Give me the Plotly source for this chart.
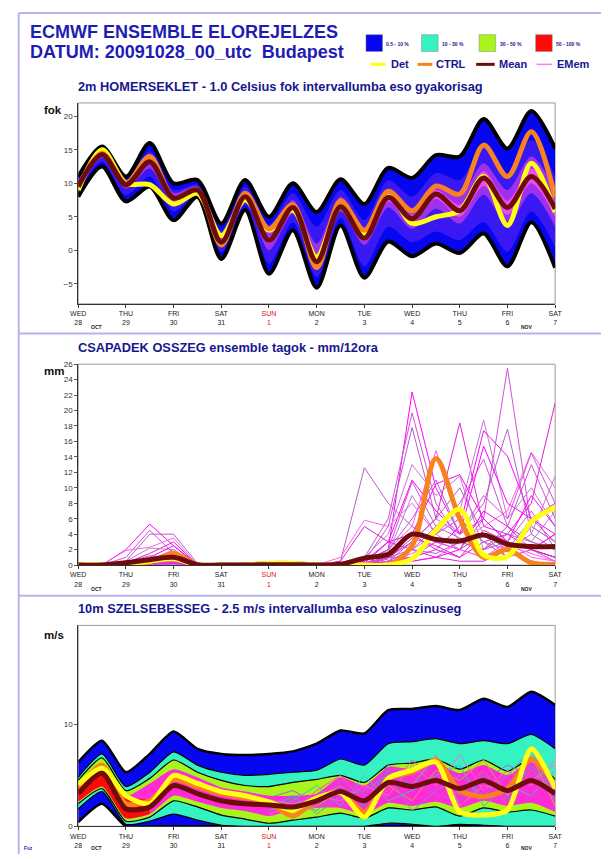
import plotly.graph_objects as go

# ---------------- data ----------------
times = ["2009-10-28 00:00", "2009-10-28 12:00", "2009-10-29 00:00", "2009-10-29 12:00",
         "2009-10-30 00:00", "2009-10-30 12:00", "2009-10-31 00:00", "2009-10-31 12:00",
         "2009-11-01 00:00", "2009-11-01 12:00", "2009-11-02 00:00", "2009-11-02 12:00",
         "2009-11-03 00:00", "2009-11-03 12:00", "2009-11-04 00:00", "2009-11-04 12:00",
         "2009-11-05 00:00", "2009-11-05 12:00", "2009-11-06 00:00", "2009-11-06 12:00",
         "2009-11-07 00:00"]
day_ticks = ["2009-10-28", "2009-10-29", "2009-10-30", "2009-10-31", "2009-11-01", "2009-11-02",
             "2009-11-03", "2009-11-04", "2009-11-05", "2009-11-06", "2009-11-07"]
day_names = ["WED", "THU", "FRI", "SAT", "SUN", "MON", "TUE", "WED", "THU", "FRI", "SAT"]
day_nums = ["28", "29", "30", "31", "1", "2", "3", "4", "5", "6", "7"]

# 2m temperature (Celsius)
temp_max = [11, 15.5, 11, 16, 10, 10.5, 4, 10.5, 5, 10, 5.7, 10.6, 6.9, 12.3, 10.8, 14.2, 14, 19.6, 15.2, 20.8, 15.2]
temp_min = [8, 12.5, 7.3, 9.5, 4.5, 8, -1.3, 6, -3.5, 3, -5.6, 3.7, -4.1, 1.3, -0.9, 1, -0.4, 2.5, -2.4, 4.2, -2.6]
temp_p90 = [10.3, 15, 10.5, 14.8, 9, 9.8, 3, 9.5, 3.8, 8.5, 3.5, 9, 4.5, 10.5, 8, 11.5, 10.5, 15.5, 11.5, 16.5, 11]
temp_p10 = [8.7, 13.2, 8.2, 11, 5.8, 8.4, -0.3, 6.8, -2, 4.2, -4, 4.8, -2.4, 3.5, 1.2, 2.8, 1.5, 4.2, -0.2, 5.8, 0.5]
temp_p75 = [10, 14.8, 10.3, 14.2, 8.6, 9.5, 2.3, 8.8, 2.6, 7.5, 1, 8, 3.0, 9.2, 6.3, 9.8, 8, 13, 9, 14, 9]
temp_p25 = [9.1, 13.8, 9.2, 12.2, 6.9, 8.8, 0.5, 7.4, 0, 5.4, -2.8, 5.8, 0.8, 6.4, 3.2, 6.2, 4, 8.3, 3.8, 8.5, 3.5]
temp_p60 = [9.8, 14.6, 10.1, 13.7, 8.2, 9.3, 1.7, 8.3, 2.0, 6.8, -1.0, 7.0, 2.3, 8.4, 5.3, 9.0, 6.8, 11.8, 7.4, 12.2, 7.2]
temp_p40 = [9.3, 14.1, 9.6, 12.9, 7.4, 8.9, 0.9, 7.8, 1.0, 6.0, -2.2, 6.2, 1.4, 7.3, 4.1, 7.7, 5.0, 9.6, 5.3, 10.0, 5.0]
temp_det = [9, 15, 10, 9.8, 6.9, 8.5, 2.2, 7.5, 3, 6, -1, 6.5, 2.5, 8.5, 4, 5, 5.9, 11, 3.7, 13, 5.7]
temp_ctrl = [9.5, 14.5, 10, 14, 7.8, 9, 0.8, 8.5, 3.2, 6.8, -2.6, 7.4, 3.0, 8.8, 5.9, 9.6, 8.4, 15.7, 11, 17.7, 7.9]
temp_mean = [9.5, 14.3, 9.8, 13.2, 7.8, 9, 1.2, 8, 1.5, 6.4, -1.7, 6.5, 1.8, 7.9, 4.7, 8.4, 5.9, 10.8, 6.4, 11, 6.2]

# 12-hourly precipitation (mm/12h)
prec_det = [0, 0, 0.1, 0.5, 0.8, 0, 0, 0, 0.2, 0.2, 0, 0, 0, 0, 0.8, 4.5, 7.2, 1.3, 1.1, 5.6, 7.5]
prec_ctrl = [0, 0, 0.1, 0.4, 1.5, 0, 0, 0, 0.2, 0.2, 0, 0, 0, 0, 2.5, 13.8, 6.0, 1.0, 2.0, 0.3, 0.1]
prec_mean = [0, 0, 0.3, 0.7, 1.0, 0.05, 0, 0, 0.05, 0.05, 0, 0.1, 0.9, 1.4, 4.0, 3.3, 3.1, 3.9, 2.7, 2.4, 2.4]
prec_m01 = [0, 0, 2.0, 5.3, 2.5, 0, 0, 0, 0, 0, 0, 0, 0.5, 2.0, 22.4, 10.0, 4.0, 6.0, 3.0, 2.0, 1.0]
prec_m02 = [0, 0, 1.0, 4.5, 1.5, 0, 0, 0, 0, 0, 0, 0.3, 1.0, 6.0, 19.7, 8.0, 3.0, 2.0, 5.0, 3.0, 2.0]
prec_m03 = [0, 0, 0.5, 4.0, 4.0, 0.2, 0, 0, 0, 0, 0, 0, 0.5, 5.0, 17.8, 6.0, 10.0, 4.0, 2.0, 6.0, 3.0]
prec_m04 = [0, 0, 1.9, 2.3, 3.5, 0, 0, 0, 0, 0, 0, 0, 0, 2.0, 5.0, 14.8, 6.0, 3.0, 1.0, 2.0, 4.0]
prec_m05 = [0, 0, 0.3, 1.5, 3.0, 0, 0, 0, 0, 0, 0, 0, 0, 1.0, 3.0, 6.0, 18.4, 5.0, 4.0, 2.0, 1.0]
prec_m06 = [0, 0, 0.5, 2.2, 2.0, 0, 0, 0, 0, 0, 0, 0, 0, 0.5, 2.0, 4.0, 7.0, 18.8, 6.0, 10.0, 5.0]
prec_m07 = [0, 0, 0.2, 1.0, 2.5, 0, 0, 0, 0, 0, 0, 0, 0.2, 3.0, 4.0, 2.0, 5.0, 17.4, 14.1, 6.0, 8.0]
prec_m08 = [0, 0, 0.4, 1.2, 1.0, 0, 0, 0.3, 0, 0, 0, 0, 0, 1.0, 1.0, 3.0, 2.0, 6.0, 25.5, 5.0, 3.0]
prec_m09 = [0, 0, 0, 0.8, 1.5, 0, 0, 0, 0, 0, 0, 0, 0.5, 2.0, 6.0, 11.0, 4.0, 8.0, 17.6, 4.0, 2.0]
prec_m10 = [0, 0, 0.1, 0.5, 1.0, 0, 0, 0, 0, 0, 0, 0, 0, 0, 0.5, 1.0, 3.0, 5.0, 7.0, 14.6, 10.0]
prec_m11 = [0, 0, 0, 0.3, 0.8, 0, 0, 0, 0.2, 0, 0, 0, 0, 0.5, 1.0, 2.0, 1.0, 3.0, 4.0, 8.0, 21.0]
prec_m12 = [0, 0, 0, 0.6, 2.0, 0, 0, 0, 0, 0, 0, 0, 1.0, 4.0, 13.0, 9.0, 11.5, 2.0, 5.0, 3.0, 7.0]
prec_m13 = [0, 0, 0.2, 0.4, 1.2, 0, 0, 0, 0, 0, 0, 0, 0.5, 3.0, 11.0, 7.0, 4.0, 15.4, 8.0, 6.0, 4.0]
prec_m14 = [0, 0, 0, 1.0, 0.5, 0, 0, 0, 0, 0, 0, 0, 0, 2.0, 10.8, 5.0, 8.0, 13.7, 5.0, 13.0, 6.0]
prec_m15 = [0, 0, 0, 0.2, 0.6, 0, 0, 0, 0, 0, 0, 0.5, 12.6, 8.0, 5.0, 3.0, 2.0, 4.0, 1.0, 2.0, 0.5]
prec_m16 = [0, 0, 0, 0.5, 0.3, 0, 0, 0, 0, 0, 0, 1.0, 5.8, 5.0, 8.0, 4.0, 2.0, 1.0, 3.0, 1.0, 0.5]
prec_m17 = [0, 0, 0, 0.1, 0.4, 0, 0, 0, 0, 0, 0, 0.5, 5.0, 3.0, 2.0, 1.0, 0.5, 0.5, 2.0, 0.5, 0]
prec_m18 = [0, 0, 0, 0.3, 0.9, 0, 0, 0, 0, 0, 0, 0, 1.0, 1.5, 9.0, 4.0, 6.0, 3.0, 2.0, 4.0, 11.5]
prec_m19 = [0, 0, 0, 0.2, 0.7, 0, 0, 0, 0, 0, 0, 0, 0.3, 1.0, 4.0, 10.5, 11.7, 6.0, 3.0, 9.0, 5.0]
prec_m20 = [0, 0, 0, 0, 0.3, 0, 0, 0, 0, 0, 0, 0, 0, 0.5, 3.0, 6.0, 4.0, 9.0, 6.0, 14.5, 8.0]
prec_m21 = [0, 0, 0, 0.4, 0.5, 0, 0, 0, 0, 0, 0, 0, 0.2, 1.0, 2.0, 1.5, 3.0, 2.0, 4.0, 3.0, 2.0]
prec_m22 = [0, 0, 0, 0, 0.2, 0, 0, 0, 0, 0, 0, 0, 0, 0.3, 1.5, 3.0, 2.0, 1.0, 2.5, 1.5, 0.5]
prec_m23 = [0, 0, 0, 0.2, 0.4, 0, 0, 0, 0, 0, 0, 0, 0, 0.8, 3.5, 2.5, 1.0, 4.5, 3.0, 2.0, 1.0]
prec_m24 = [0, 0, 0, 0, 0.1, 0, 0, 0, 0, 0, 0, 0, 0, 0.2, 1.0, 4.0, 6.0, 3.0, 1.0, 5.0, 3.0]
prec_m25 = [0, 0, 0, 0.1, 0.2, 0, 0, 0, 0, 0, 0, 0, 0, 0.1, 0.5, 1.0, 2.0, 7.0, 5.0, 2.0, 4.0]
prec_m26 = [0, 0, 0, 0, 0.5, 0, 0, 0, 0, 0, 0, 0, 0, 0.5, 2.0, 5.0, 3.5, 2.0, 3.0, 7.0, 2.0]
prec_members = [prec_m01, prec_m02, prec_m03, prec_m04, prec_m05, prec_m06, prec_m07, prec_m08,
                prec_m09, prec_m10, prec_m11, prec_m12, prec_m13, prec_m14, prec_m15, prec_m16,
                prec_m17, prec_m18, prec_m19, prec_m20, prec_m21, prec_m22, prec_m23, prec_m24,
                prec_m25, prec_m26]

# 10m wind speed (m/s)
wind_max = [6.3, 8.4, 5.3, 7.1, 9.3, 7.6, 7.1, 7.0, 7.1, 7.35, 8.1, 9.4, 9.1, 11.4, 11.5, 11.8, 11.4, 12.5, 11.7, 13.2, 11.9]
wind_p90 = [4.8, 7.1, 3.9, 5.3, 7.3, 6.0, 5.3, 5.0, 5.1, 5.3, 5.5, 6.6, 6.0, 8.1, 8.3, 8.6, 8.1, 8.4, 8.1, 9.0, 7.6]
wind_p70 = [4.5, 6.7, 3.5, 4.7, 6.5, 5.3, 4.5, 4.0, 3.9, 4.3, 4.6, 5.0, 4.3, 6.0, 6.2, 6.6, 5.6, 6.5, 5.4, 6.6, 4.6]
wind_hi = [4.2, 6.2, 3.0, 4.2, 5.6, 4.8, 3.8, 3.4, 3.0, 3.0, 3.2, 4.8, 4.0, 5.8, 5.6, 6.2, 5.2, 6.0, 5.0, 6.3, 4.3]
wind_lo = [2.4, 3.9, 0.8, 1.2, 3.0, 2.4, 1.8, 1.5, 1.0, 1.6, 1.8, 1.8, 1.2, 2.3, 2.0, 2.4, 1.8, 2.5, 2.0, 2.3, 1.4]
wind_p30 = [2.2, 3.7, 0.5, 0.9, 2.5, 1.9, 1.1, 0.7, 0.3, 0.6, 0.9, 1.3, 0.8, 1.8, 1.6, 1.9, 1.0, 1.8, 1.4, 1.6, 1.0]
wind_p10 = [1.7, 3.4, 0.2, 0.5, 1.2, 0.6, 0.1, 0, 0, 0, 0, 0, 0, 0.3, 0.2, 0, 0.2, 0.1, 0, 0, 0]
wind_min = [0.4, 2.2, 0, 0, 0, 0, 0, 0, 0, 0, 0, 0, 0, 0, 0, 0, 0, 0, 0, 0, 0]
wind_red_hi = [4.2, 6.2, 3.0, 2.6]
wind_red_lo = [2.4, 3.9, 0.8, 1.2]
wind_det = [4.1, 5.7, 3.0, 2.2, 5.0, 4.2, 3.4, 3.0, 2.4, 1.6, 2.8, 3.3, 0.9, 4.7, 5.5, 6.3, 1.4, 1.1, 1.6, 7.6, 3.7]
wind_ctrl = [3.8, 6.0, 2.2, 2.5, 4.6, 3.9, 3.2, 2.8, 2.3, 1.0, 2.6, 3.4, 1.4, 4.7, 5.3, 6.5, 3.5, 2.9, 3.7, 6.6, 4.0]
wind_mean = [3.2, 5.2, 1.7, 1.9, 4.0, 3.2, 2.5, 2.2, 2.1, 1.9, 2.5, 3.4, 2.5, 4.3, 3.9, 4.5, 3.7, 4.5, 3.5, 4.5, 3.2]
wind_m01 = [3.0, 5.0, 1.5, 2.0, 4.2, 3.5, 2.8, 2.5, 2.0, 2.8, 1.5, 4.0, 2.0, 5.5, 4.0, 6.5, 3.0, 5.0, 2.5, 6.0, 3.0]
wind_m02 = [3.5, 5.5, 2.2, 2.8, 4.5, 3.0, 2.2, 1.8, 1.2, 2.0, 3.0, 2.5, 4.0, 3.0, 6.0, 4.0, 7.0, 3.5, 5.5, 4.0, 6.5]
wind_m03 = [2.8, 4.8, 1.0, 1.8, 3.8, 3.2, 2.5, 2.2, 2.5, 1.0, 2.0, 3.5, 1.5, 4.0, 2.5, 5.5, 4.5, 6.5, 3.0, 7.0, 2.0]
wind_m04 = [3.2, 5.2, 2.0, 2.5, 3.5, 2.8, 2.0, 1.5, 2.8, 3.5, 2.2, 4.5, 3.0, 6.0, 5.0, 3.0, 2.5, 4.5, 6.0, 5.0, 4.5]
wind_m05 = [3.6, 5.0, 1.6, 2.2, 4.8, 3.8, 3.0, 2.8, 1.5, 2.5, 4.0, 2.0, 5.0, 2.5, 3.5, 5.0, 6.0, 2.0, 4.0, 3.0, 5.5]
wind_m06 = [3.0, 5.4, 1.8, 2.6, 4.0, 3.4, 2.4, 2.0, 2.2, 1.5, 3.5, 5.0, 2.5, 3.5, 6.5, 4.5, 3.0, 5.5, 2.0, 5.5, 3.5]
wind_m07 = [3.4, 4.6, 1.4, 2.0, 3.6, 3.0, 2.6, 2.4, 1.8, 3.0, 1.2, 3.0, 3.5, 5.0, 1.5, 3.5, 5.0, 3.0, 5.0, 7.5, 2.5]
wind_m08 = [2.6, 5.6, 2.4, 3.0, 4.4, 2.6, 1.8, 1.6, 2.6, 2.2, 2.8, 4.0, 1.0, 4.5, 4.0, 7.0, 2.0, 4.0, 3.5, 4.5, 6.0]
wind_members = [wind_m01, wind_m02, wind_m03, wind_m04, wind_m05, wind_m06, wind_m07, wind_m08]

# ---------------- styling ----------------
W, H = 608, 859
FONT = "Liberation Sans, Arial, sans-serif"
NAVY = "#17178f"
HEAD = "#1d1db4"
C_BLUE = "#0606f0"
C_AQUA = "#34f2c2"
C_GY = "#a8f51c"
C_RED = "#ff0a0a"
C_MAG = "#ff2bd6"
C_DET = "#ffff10"
C_CTRL = "#f7821e"
C_MEAN = "#6e0c0c"


def px(x):
    return x / W


def py(y):
    return 1 - y / H


fig = go.Figure()


def band(ax, x, lo, hi, fill, edge="black", ew=1, shape="spline", smooth=0.8):
    xa, ya = ax
    fig.add_trace(go.Scatter(x=x, y=lo, xaxis=xa, yaxis=ya, mode="lines",
                             line=dict(color=edge, width=ew, shape=shape, smoothing=smooth),
                             hoverinfo="skip", showlegend=False))
    fig.add_trace(go.Scatter(x=x, y=hi, xaxis=xa, yaxis=ya, mode="lines", fill="tonexty",
                             fillcolor=fill,
                             line=dict(color=edge, width=ew, shape=shape, smoothing=smooth),
                             hoverinfo="skip", showlegend=False))


def curve(ax, x, y, color, width, shape="spline", smooth=0.9):
    xa, ya = ax
    fig.add_trace(go.Scatter(x=x, y=y, xaxis=xa, yaxis=ya, mode="lines",
                             line=dict(color=color, width=width, shape=shape, smoothing=smooth),
                             hoverinfo="skip", showlegend=False))


A1, A2, A3 = ("x", "y"), ("x2", "y2"), ("x3", "y3")

# ---- panel 1: temperature ----
band(A1, times, temp_min, temp_max, C_BLUE, edge="black", ew=4)
band(A1, times, temp_p10, temp_p90, "#3a18f4", edge="rgba(0,0,0,0)", ew=0)
band(A1, times, temp_p25, temp_p75, "#a030f0", edge="rgba(0,0,0,0)", ew=0)
band(A1, times, temp_p40, temp_p60, "#f04af0", edge="rgba(0,0,0,0)", ew=0)
curve(A1, times, temp_det, C_DET, 5)
curve(A1, times, temp_ctrl, C_CTRL, 5)
curve(A1, times, temp_mean, C_MEAN, 5)

# ---- panel 2: precipitation ----
mem_cols = ["#ff00ff", "#d24fd8", "#b85cc8", "#ff5cf0", "#e020d0", "#c07ad0"]
for i, m in enumerate(prec_members):
    curve(A2, times, m, mem_cols[i % len(mem_cols)], 1, shape="linear")
curve(A2, times, prec_ctrl, C_CTRL, 5)
curve(A2, times, prec_det, C_DET, 5)
curve(A2, times, prec_mean, C_MEAN, 5)

# ---- panel 3: wind ----
band(A3, times, wind_min, wind_max, C_BLUE, edge="black", ew=2.5, smooth=0.6)
band(A3, times, wind_p10, wind_p90, C_AQUA, edge="black", ew=1.2, smooth=0.6)
band(A3, times, wind_p30, wind_p70, C_GY, edge="black", ew=1.2, smooth=0.6)
band(A3, times, wind_lo, wind_hi, C_MAG, edge="rgba(0,0,0,0)", ew=0, smooth=0.6)
band(A3, times[:4], wind_red_lo, wind_red_hi, C_RED, edge="rgba(0,0,0,0)", ew=0, smooth=0.6)
wm_cols = ["#3aa7b8", "#ff66cc", "#d8a040", "#9b6ad8", "#48b8c8", "#ff4fb0", "#7a8ad8", "#e07ab0"]
for i, m in enumerate(wind_members):
    curve(A3, times[8:], m[8:], wm_cols[i % len(wm_cols)], 1, shape="linear")
curve(A3, times, wind_ctrl, C_CTRL, 5, smooth=0.7)
curve(A3, times, wind_det, C_DET, 5, smooth=0.7)
curve(A3, times, wind_mean, C_MEAN, 5, smooth=0.7)

# ---------------- axes ----------------
ticktext = []
for n, d in zip(day_names, day_nums):
    if n == "SUN":
        ticktext.append("<span style='color:#e01010'>%s</span><br><span style='color:#e01010'>%s</span>" % (n, d))
    else:
        ticktext.append("%s<br>%s" % (n, d))

xdom = [px(72), px(561)]

xcommon = dict(type="date", range=[times[0], times[-1]], tickmode="array", tickvals=day_ticks,
               ticktext=ticktext, ticks="outside", ticklen=3, tickcolor="#333",
               tickfont=dict(family=FONT, size=7, color="#222"), showgrid=False,
               showline=True, linecolor="#333", linewidth=1, zeroline=False, domain=xdom)
ycommon = dict(ticks="outside", ticklen=3, tickcolor="#555", showgrid=False, zeroline=False,
               showline=True, linecolor="#333", linewidth=1,
               tickfont=dict(family=FONT, size=8, color="#333"))

layout = dict(
    width=W, height=H, autosize=False, margin=dict(l=0, r=0, t=0, b=0),
    paper_bgcolor="white", plot_bgcolor="white", showlegend=False,
    xaxis=dict(xcommon, anchor="y"),
    yaxis=dict(ycommon, anchor="x", domain=[py(303), py(100)], range=[-8, 22],
               tickvals=[-5, 0, 5, 10, 15, 20]),
    xaxis2=dict(xcommon, anchor="y2"),
    yaxis2=dict(ycommon, anchor="x2", domain=[py(567), py(364)], range=[0, 26],
                tickvals=list(range(0, 27, 2))),
    xaxis3=dict(xcommon, anchor="y3"),
    yaxis3=dict(ycommon, anchor="x3", domain=[py(831), py(628)], range=[0, 19.7],
                tickvals=[0, 10]),
)
fig.update_layout(**layout)

shapes = []
annotations = []

# plot-area frames (light top/right edges)
for xa, ya in [("x", "y"), ("x2", "y2"), ("x3", "y3")]:
    shapes.append(dict(type="rect", xref=xa + " domain", yref=ya + " domain", x0=0, x1=1, y0=0, y1=1,
                       line=dict(color="#9a9a9a", width=1), layer="below"))

# page frame
FR = "#b8b2e8"
shapes.append(dict(type="line", xref="paper", yref="paper", x0=px(11), x1=px(11), y0=0, y1=py(9),
                   line=dict(color=FR, width=2)))
shapes.append(dict(type="line", xref="paper", yref="paper", x0=px(11), x1=1, y0=py(9), y1=py(9),
                   line=dict(color=FR, width=2)))
for yy in (333, 598):
    shapes.append(dict(type="line", xref="paper", yref="paper", x0=px(11), x1=1, y0=py(yy), y1=py(yy),
                       line=dict(color=FR, width=2)))

# header
annotations.append(dict(text="<b>ECMWF ENSEMBLE ELOREJELZES</b>", x=px(20), y=py(28), xref="paper",
                        yref="paper", xanchor="left", yanchor="middle", showarrow=False,
                        font=dict(family=FONT, size=18, color=HEAD)))
annotations.append(dict(text="<b>DATUM: 20091028_00_utc&nbsp;&nbsp;Budapest</b>", x=px(20), y=py(49),
                        xref="paper", yref="paper", xanchor="left", yanchor="middle", showarrow=False,
                        font=dict(family=FONT, size=18, color=HEAD)))

# legend: probability boxes
boxes = [(367, C_BLUE, "0.5 - 10 %"), (424, C_AQUA, "10 - 30 %"), (483, C_GY, "30 - 50 %"),
         (541, C_RED, "50 - 100 %")]
for x0, col, lab in boxes:
    shapes.append(dict(type="rect", xref="paper", yref="paper", x0=px(x0), x1=px(x0 + 17),
                       y0=py(48), y1=py(31), fillcolor=col, line=dict(color="#888", width=0.5)))
    annotations.append(dict(text="<b>%s</b>" % lab, x=px(x0 + 19), y=py(40), xref="paper", yref="paper",
                            xanchor="left", yanchor="middle", showarrow=False,
                            font=dict(family=FONT, size=5, color=NAVY)))
# legend: lines
lines_leg = [(372, 387, C_DET, 391, "Det"), (420, 435, C_CTRL, 437, "CTRL"),
             (480, 499, C_MEAN, 501, "Mean"), (542, 558, "#ee82ee", 561, "EMem")]
for x0, x1, col, tx, lab in lines_leg:
    shapes.append(dict(type="line", xref="paper", yref="paper", x0=px(x0), x1=px(x1), y0=py(61), y1=py(61),
                       line=dict(color=col, width=3 if lab != "EMem" else 1.5)))
    annotations.append(dict(text="<b>%s</b>" % lab, x=px(tx), y=py(61), xref="paper", yref="paper",
                            xanchor="left", yanchor="middle", showarrow=False,
                            font=dict(family=FONT, size=11, color=NAVY)))

# panel titles
titles = [(83, "2m HOMERSEKLET - 1.0 Celsius fok intervallumba eso gyakorisag"),
          (347, "CSAPADEK OSSZEG ensemble tagok - mm/12ora"),
          (611, "10m SZELSEBESSEG - 2.5 m/s intervallumba eso valoszinuseg")]
for yy, t in titles:
    annotations.append(dict(text="<b>%s</b>" % t, x=px(70), y=py(yy), xref="paper", yref="paper",
                            xanchor="left", yanchor="middle", showarrow=False,
                            font=dict(family=FONT, size=12.8, color=NAVY)))

# y-axis unit labels
for txt, xx, yy in [("fok", 46, 107), ("mm", 47, 371), ("m/s", 47, 638)]:
    annotations.append(dict(text="<b>%s</b>" % txt, x=px(xx), y=py(yy), xref="paper", yref="paper",
                            xanchor="center", yanchor="middle", showarrow=False,
                            font=dict(family=FONT, size=11.5, color="#111")))

# month labels
for yy in (326, 591, 853):
    annotations.append(dict(text="<b>OCT</b>", x=px(91), y=py(yy), xref="paper", yref="paper",
                            xanchor="center", yanchor="middle", showarrow=False,
                            font=dict(family=FONT, size=5, color="#222")))
    annotations.append(dict(text="<b>NOV</b>", x=px(532), y=py(yy), xref="paper", yref="paper",
                            xanchor="center", yanchor="middle", showarrow=False,
                            font=dict(family=FONT, size=5, color="#222")))

annotations.append(dict(text="<b>Fsz</b>", x=px(14), y=py(853), xref="paper", yref="paper",
                        xanchor="left", yanchor="middle", showarrow=False,
                        font=dict(family=FONT, size=5, color=HEAD)))

fig.update_layout(shapes=shapes, annotations=annotations)
fig.write_html("out.html", config={"displayModeBar": False},
               post_script="document.body.style.margin='0px';document.body.style.overflow='hidden';")
